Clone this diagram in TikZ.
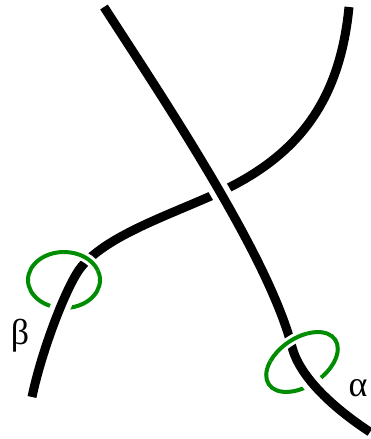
\documentclass[tikz,border=0pt]{standalone}
\usepackage{fontspec}
\setmainfont{Liberation Serif}
\definecolor{ringgreen}{RGB}{0,140,0}
\begin{document}
\begin{tikzpicture}[x=1pt,y=1pt,
  strand/.style={line width=9pt,black},
  halo/.style={line width=20pt,white},
  ring/.style={line width=4pt,ringgreen},
  ringhalo/.style={line width=10pt,white},
  lbl/.style={inner sep=0pt,font=\fontsize{36}{40}\selectfont}]
\useasboundingbox (0,0) rectangle (370,439);
\coordinate (cb) at (64,159);
\coordinate (ca) at (302,77);
% rings (full)
\draw[ring] (cb) ellipse [x radius=36,y radius=28];
\draw[ring,rotate around={34:(ca)}] (ca) ellipse [x radius=40,y radius=24];
% strand 2
\def\strandtwo{(349,432) .. controls (340,340) and (300,285) .. (222,248) .. controls (170,224) and (110,205) .. (82,173) .. controls (68,157) and (42,90) .. (32,42)}
\draw[halo] \strandtwo;
\draw[strand] \strandtwo;
% strand 1
\def\strandone{(104,432) .. controls (160,345) and (268,185) .. (292,92) .. controls (300,61) and (335,30) .. (370,7)}
\draw[halo] \strandone;
\draw[strand] \strandone;
% ring arcs passing over the strands
\draw[ringhalo] (cb) ++(20:36 and 28) arc[start angle=20,end angle=90,x radius=36,y radius=28];
\draw[ring] (cb) ++(20:36 and 28) arc[start angle=20,end angle=90,x radius=36,y radius=28];
\begin{scope}[rotate around={34:(ca)}]
\draw[ringhalo] (ca) ++(60:40 and 24) arc[start angle=60,end angle=130,x radius=40,y radius=24];
\draw[ring] (ca) ++(60:40 and 24) arc[start angle=60,end angle=130,x radius=40,y radius=24];
\end{scope}
\node[lbl] (beta) at (20,103) {β};
\node[lbl] (alpha) at (358,51) {α};
\end{tikzpicture}
\end{document}
